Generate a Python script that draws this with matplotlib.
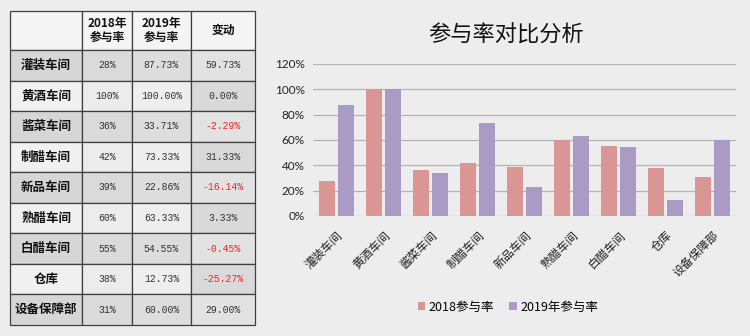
import numpy as np
import matplotlib
matplotlib.use("Agg")
import matplotlib.pyplot as plt
from matplotlib.patches import Rectangle

plt.rcParams['font.family'] = ['Noto Sans CJK SC', 'DejaVu Sans']

# data
depts = ["灌装车间", "黄酒车间", "酱菜车间", "制醋车间", "新品车间", "熟醋车间", "白醋车间", "仓库", "设备保障部"]
rate_2018 = [28, 100, 36, 42, 39, 60, 55, 38, 31]
rate_2019 = [87.73, 100.00, 33.71, 73.33, 22.86, 63.33, 54.55, 12.73, 60.00]
headers = ["", "2018年\n参与率", "2019年\n参与率", "变动"]
legend_labels = ["2018参与率", "2019年参与率"]
title = "参与率对比分析"
yticks = [0, 20, 40, 60, 80, 100, 120]

bg = "#EDEDED"
c_2018 = "#D99694"
c_2019 = "#A99BC3"

fig = plt.figure(figsize=(7.5, 3.36), dpi=100, facecolor=bg)

# ---- table on the left (pixel coordinates) ----
tab = fig.add_axes([0, 0, 1, 1])
tab.set_xlim(0, 750)
tab.set_ylim(336, 0)
tab.axis("off")

col_x = [10, 82, 132, 191, 255]
row_y = [11, 50] + list(np.linspace(50, 325, len(depts) + 1)[1:])

def cell(x0, x1, y0, y1, fc):
    tab.add_patch(Rectangle((x0, y0), x1 - x0, y1 - y0, facecolor=fc,
                            edgecolor="#3F3F3F", linewidth=0.9))

# header
for j in range(4):
    cell(col_x[j], col_x[j + 1], row_y[0], row_y[1], "#F4F4F4")
    if headers[j]:
        tab.text((col_x[j] + col_x[j + 1]) / 2, (row_y[0] + row_y[1]) / 2, headers[j],
                 ha="center", va="center", fontsize=8.5, fontweight="bold",
                 linespacing=1.0, color="#111111")

for i, name in enumerate(depts):
    y0, y1 = row_y[i + 1], row_y[i + 2]
    ym = (y0 + y1) / 2
    dark = (i % 2 == 0)
    base = "#D6D6D6" if dark else "#F0F0F0"
    chg_fc = "#E2E2E2" if dark else "#D9D9D9"
    cell(col_x[0], col_x[1], y0, y1, base)
    cell(col_x[1], col_x[2], y0, y1, "#DADADA" if dark else "#ECECEC")
    cell(col_x[2], col_x[3], y0, y1, "#DDDDDD" if dark else "#EEEEEE")
    cell(col_x[3], col_x[4], y0, y1, chg_fc)
    diff = rate_2019[i] - rate_2018[i]
    tab.text((col_x[0] + col_x[1]) / 2, ym, name, ha="center", va="center",
             fontsize=9, fontweight="bold", color="#111111")
    tab.text((col_x[1] + col_x[2]) / 2, ym, f"{rate_2018[i]}%", ha="center", va="center",
             fontsize=7, color="#333333", family="Liberation Mono")
    tab.text((col_x[2] + col_x[3]) / 2, ym, f"{rate_2019[i]:.2f}%", ha="center", va="center",
             fontsize=7, color="#333333", family="Liberation Mono")
    tab.text((col_x[3] + col_x[4]) / 2, ym, f"{diff:.2f}%", ha="center", va="center",
             fontsize=7, color="#FF2020" if diff < 0 else "#333333", family="Liberation Mono")

# ---- bar chart ----
ax = fig.add_axes([313 / 750, (336 - 216) / 336, (736 - 313) / 750, (216 - 64) / 336])
ax.set_facecolor(bg)
x = np.arange(len(depts))
w = 0.34
ax.bar(x - 0.2, rate_2018, w, color=c_2018, label=legend_labels[0], zorder=3)
ax.bar(x + 0.2, rate_2019, w, color=c_2019, label=legend_labels[1], zorder=3)
ax.set_xlim(-0.5, len(depts) - 0.5)
ax.set_ylim(0, 120)
ax.set_yticks(yticks)
ax.set_yticklabels([f"{v}%" for v in yticks], family="Lato", fontsize=8.5, color="#222222")
ax.yaxis.grid(True, color="#B5B5B5", linewidth=0.9, zorder=0)
ax.tick_params(axis="both", length=0, pad=6)
for s in ax.spines.values():
    s.set_visible(False)
ax.set_xticks(x)
ax.set_xticklabels(depts, rotation=45, ha="right", rotation_mode="anchor",
                   fontsize=8.5, color="#222222")
ax.tick_params(axis="x", pad=9)

fig.text(506 / 750, 1 - 35 / 336, title, ha="center", va="center", fontsize=16, color="#111111")

fig.legend(loc="center", bbox_to_anchor=(508 / 750, 1 - 307 / 336), ncol=2, frameon=False,
           fontsize=9, handlelength=0.6, handleheight=0.6, handletextpad=0.3, columnspacing=1.2)

fig.savefig("out.png", dpi=100, facecolor=bg)
